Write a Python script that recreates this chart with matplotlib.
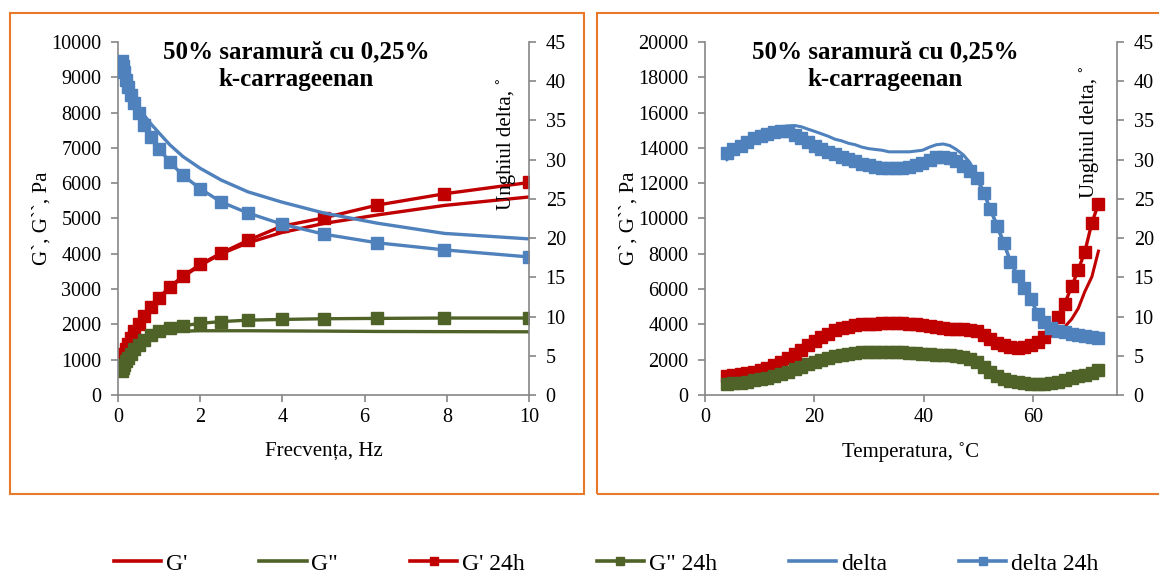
import numpy as np
import matplotlib
matplotlib.use('Agg')
import matplotlib.pyplot as plt
from matplotlib.patches import Rectangle
from matplotlib.lines import Line2D

plt.rcParams['font.family'] = ['Liberation Serif', 'DejaVu Serif']

RED = '#C00000'
GREEN = '#4F6228'
BLUE = '#4F81BD'
GREY = '#868686'
ORANGE = '#E8782A'

# --- frequency sweep (left chart) ---
freq = [0.1, 0.126, 0.158, 0.2, 0.251, 0.316, 0.398, 0.501, 0.631, 0.794, 1.0,
        1.26, 1.58, 2.0, 2.51, 3.16, 3.98, 5.01, 6.31, 7.94, 10.0]
g1_f = [780, 950, 1110, 1270, 1430, 1600, 1790, 1990, 2220, 2460, 2730,
        3030, 3350, 3670, 4000, 4310, 4600, 4860, 5100, 5370, 5610]
g2_f = [650, 770, 890, 1010, 1130, 1260, 1380, 1490, 1580, 1660, 1750,
        1790, 1810, 1820, 1820, 1820, 1815, 1810, 1800, 1795, 1790]
g1_24_f = [850, 1000, 1150, 1300, 1450, 1620, 1800, 2000, 2240, 2480, 2760,
           3060, 3370, 3700, 4020, 4380, 4780, 5020, 5380, 5700, 6020]
g2_24_f = [680, 760, 850, 950, 1060, 1170, 1290, 1420, 1560, 1690, 1800,
           1890, 1960, 2030, 2080, 2120, 2140, 2160, 2170, 2180, 2180]
delta_f = [42.7, 42.1, 41.4, 40.6, 39.7, 38.9, 37.8, 36.8, 35.7, 34.6, 33.4,
           31.9, 30.4, 28.9, 27.4, 25.9, 24.6, 23.2, 21.9, 20.6, 19.9]
delta_24_f = [42.6, 41.9, 41.2, 40.2, 39.2, 38.2, 37.2, 35.9, 34.4, 32.9, 31.4,
              29.7, 28.0, 26.3, 24.6, 23.2, 21.8, 20.5, 19.4, 18.5, 17.6]

# --- temperature sweep (right chart) ---
temp = [4.0, 5.2, 6.5, 7.7, 8.9, 10.2, 11.4, 12.7, 13.9, 15.1, 16.4, 17.6, 18.8, 20.1,
        21.3, 22.5, 23.8, 25.0, 26.2, 27.5, 28.7, 30.0, 31.2, 32.4, 33.7, 34.9, 36.1, 37.4,
        38.6, 39.8, 41.1, 42.3, 43.6, 44.8, 46.0, 47.3, 48.5, 49.7, 51.0, 52.2, 53.5, 54.7,
        55.9, 57.2, 58.4, 59.6, 60.9, 62.1, 63.3, 64.6, 65.8, 67.1, 68.3, 69.5, 70.8, 72.0]
g1_24_t = [1100, 1130, 1180, 1230, 1310, 1420, 1530, 1690, 1860, 2070, 2310, 2550, 2810, 3070,
           3280, 3480, 3660, 3790, 3880, 3950, 4000, 4030, 4050, 4060, 4080, 4080, 4070, 4050,
           4020, 3980, 3910, 3840, 3780, 3740, 3720, 3720, 3700, 3610, 3400, 3160, 2950, 2810,
           2730, 2690, 2720, 2830, 3000, 3300, 3750, 4400, 5150, 6150, 7080, 8100, 9750, 10820]
g1_t = [1080, 1110, 1160, 1210, 1290, 1400, 1510, 1670, 1840, 2050, 2290, 2530, 2790, 3050,
        3260, 3460, 3640, 3770, 3860, 3930, 3980, 4010, 4030, 4040, 4060, 4060, 4050, 4030,
        4000, 3960, 3890, 3820, 3760, 3720, 3700, 3700, 3680, 3590, 3380, 3140, 2930, 2790,
        2710, 2670, 2690, 2780, 2930, 3120, 3330, 3550, 3850, 4300, 4900, 5850, 6700, 8150]
g2_24_t = [620, 655, 700, 750, 825, 900, 990, 1095, 1200, 1320, 1460, 1600, 1730, 1860,
           1980, 2090, 2190, 2270, 2330, 2380, 2410, 2430, 2440, 2440, 2440, 2430, 2420, 2400,
           2380, 2350, 2320, 2290, 2260, 2240, 2210, 2160, 2060, 1880, 1600, 1330, 1100, 930,
           800, 740, 680, 640, 610, 620, 670, 750, 850, 960, 1050, 1150, 1270, 1420]
g2_t = [600, 635, 680, 730, 805, 880, 970, 1075, 1180, 1300, 1440, 1580, 1710, 1840,
        1960, 2070, 2170, 2250, 2310, 2360, 2390, 2410, 2420, 2420, 2420, 2410, 2400, 2380,
        2360, 2330, 2300, 2270, 2240, 2220, 2190, 2140, 2040, 1860, 1580, 1310, 1080, 910,
        780, 720, 660, 620, 590, 590, 620, 680, 760, 850, 920, 980, 1050, 1120]
delta_24_t = [30.9, 31.3, 31.7, 32.2, 32.7, 33.0, 33.3, 33.5, 33.6, 33.6, 33.2, 32.7, 32.2, 31.8,
              31.4, 31.0, 30.7, 30.4, 30.1, 29.8, 29.5, 29.3, 29.1, 29.0, 28.9, 28.9, 28.9, 29.1,
              29.3, 29.6, 30.0, 30.3, 30.4, 30.2, 29.8, 29.2, 28.5, 27.6, 25.8, 23.7, 21.6, 19.4,
              17.0, 15.2, 13.7, 12.3, 10.3, 9.3, 8.6, 8.2, 8.0, 7.8, 7.6, 7.5, 7.4, 7.3]
delta_t = [30.0, 30.6, 31.2, 31.8, 32.3, 32.9, 33.4, 33.8, 34.1, 34.3, 34.35, 34.2, 33.9, 33.6,
           33.3, 33.0, 32.6, 32.4, 32.1, 31.9, 31.6, 31.4, 31.3, 31.2, 31.0, 31.0, 31.0, 31.0,
           31.1, 31.2, 31.6, 31.9, 32.0, 31.8, 31.3, 30.6, 29.6, 28.0, 25.9, 23.7, 21.4, 19.2,
           17.1, 15.2, 13.6, 12.1, 10.5, 9.4, 8.7, 8.3, 8.0, 7.8, 7.6, 7.5, 7.4, 7.3]

title = '50% saramură cu 0,25%\nk-carrageenan'
W, H = 1159, 573
TICK_FS = 14.5
LAB_FS = 15
MS = 8.5

fig = plt.figure(figsize=(W / 100, H / 100), dpi=100)

# orange frames around each chart
fig.patches.append(Rectangle((10 / W, 1 - 494 / H), 574 / W, 481 / H, transform=fig.transFigure,
                             fill=False, edgecolor=ORANGE, linewidth=1.5))
fig.patches.append(Rectangle((597 / W, 1 - 494 / H), 580 / W, 481 / H, transform=fig.transFigure,
                             fill=False, edgecolor=ORANGE, linewidth=1.5))


def style(ax, ax2):
    for s in ['top', 'right']:
        ax.spines[s].set_visible(False)
    for s in ['top', 'left', 'bottom']:
        ax2.spines[s].set_visible(False)
    for s in ['left', 'bottom']:
        ax.spines[s].set_color(GREY)
        ax.spines[s].set_linewidth(1.2)
    ax2.spines['right'].set_color(GREY)
    ax2.spines['right'].set_linewidth(1.2)
    ax.tick_params(axis='y', direction='out', length=5, width=1.2, color=GREY, pad=7, labelsize=TICK_FS)
    ax.tick_params(axis='x', direction='out', length=5, width=1.2, color=GREY, pad=4, labelsize=TICK_FS)
    ax2.tick_params(axis='y', direction='out', length=5, width=1.2, color=GREY, pad=7, labelsize=TICK_FS)
    ax2.set_ylim(0, 45)
    ax2.set_yticks(range(0, 46, 5))
    ax.set_facecolor('none')


def draw(ax, ax2, x, g1, g2, g1_24, g2_24, d, d24, lw_plain):
    ax.plot(x, g1, color=RED, lw=lw_plain)
    ax.plot(x, g2, color=GREEN, lw=lw_plain)
    ax.plot(x, g1_24, color=RED, lw=2.4, marker='s', ms=MS)
    ax.plot(x, g2_24, color=GREEN, lw=2.4, marker='s', ms=MS)
    ax2.plot(x, d, color=BLUE, lw=lw_plain)
    ax2.plot(x, d24, color=BLUE, lw=2.4, marker='s', ms=MS)


# left chart
ax = fig.add_axes([118 / W, 1 - 395 / H, 411 / W, 353 / H])
ax2 = ax.twinx()
draw(ax, ax2, freq, g1_f, g2_f, g1_24_f, g2_24_f, delta_f, delta_24_f, 2.4)
ax.set_xlim(0, 10)
ax.set_xticks(range(0, 11, 2))
ax.set_ylim(0, 10000)
ax.set_yticks(range(0, 10001, 1000))
style(ax, ax2)
ax.set_xlabel('Frecvența, Hz', fontsize=LAB_FS, labelpad=11)
ax.set_ylabel('G`, G``, Pa', fontsize=LAB_FS, labelpad=0)
ax.text(0.433, 0.933, title, transform=ax.transAxes, ha='center', va='center',
        fontsize=18, fontweight='bold', linespacing=1.25)
ax2.text(0.944, 0.71, 'Unghiul delta, ˚', transform=ax2.transAxes, rotation=90,
         ha='center', va='center', fontsize=LAB_FS)

# right chart
bx = fig.add_axes([705 / W, 1 - 395 / H, 412 / W, 353 / H])
bx2 = bx.twinx()
draw(bx, bx2, temp, g1_t, g2_t, g1_24_t, g2_24_t, delta_t, delta_24_t, 2.2)
bx.set_xlim(0, 75.4)
bx.set_xticks(range(0, 61, 20))
bx.set_ylim(0, 20000)
bx.set_yticks(range(0, 20001, 2000))
style(bx, bx2)
bx.set_xlabel('Temperatura, ˚C', fontsize=LAB_FS, labelpad=11)
bx.set_ylabel('G`, G``, Pa', fontsize=LAB_FS, labelpad=0)
bx.text(0.437, 0.933, title, transform=bx.transAxes, ha='center', va='center',
        fontsize=18, fontweight='bold', linespacing=1.25)
bx2.text(0.932, 0.745, 'Unghiul delta, ˚', transform=bx2.transAxes, rotation=90,
         ha='center', va='center', fontsize=LAB_FS)

# shared legend at the bottom
handles = [Line2D([], [], color=RED, lw=2.6),
           Line2D([], [], color=GREEN, lw=2.6),
           Line2D([], [], color=RED, lw=2.6, marker='s', ms=6),
           Line2D([], [], color=GREEN, lw=2.6, marker='s', ms=6),
           Line2D([], [], color=BLUE, lw=2.6),
           Line2D([], [], color=BLUE, lw=2.6, marker='s', ms=6)]
labels = ["G'", 'G"', "G' 24h", 'G" 24h', 'delta', 'delta 24h']
fig.legend(handles, labels, loc='center', bbox_to_anchor=(0.523, 0.016), ncol=6,
           frameon=False, fontsize=17, handlelength=2.0, handletextpad=0.2,
           columnspacing=3.05)

fig.savefig('out.png', dpi=100)
